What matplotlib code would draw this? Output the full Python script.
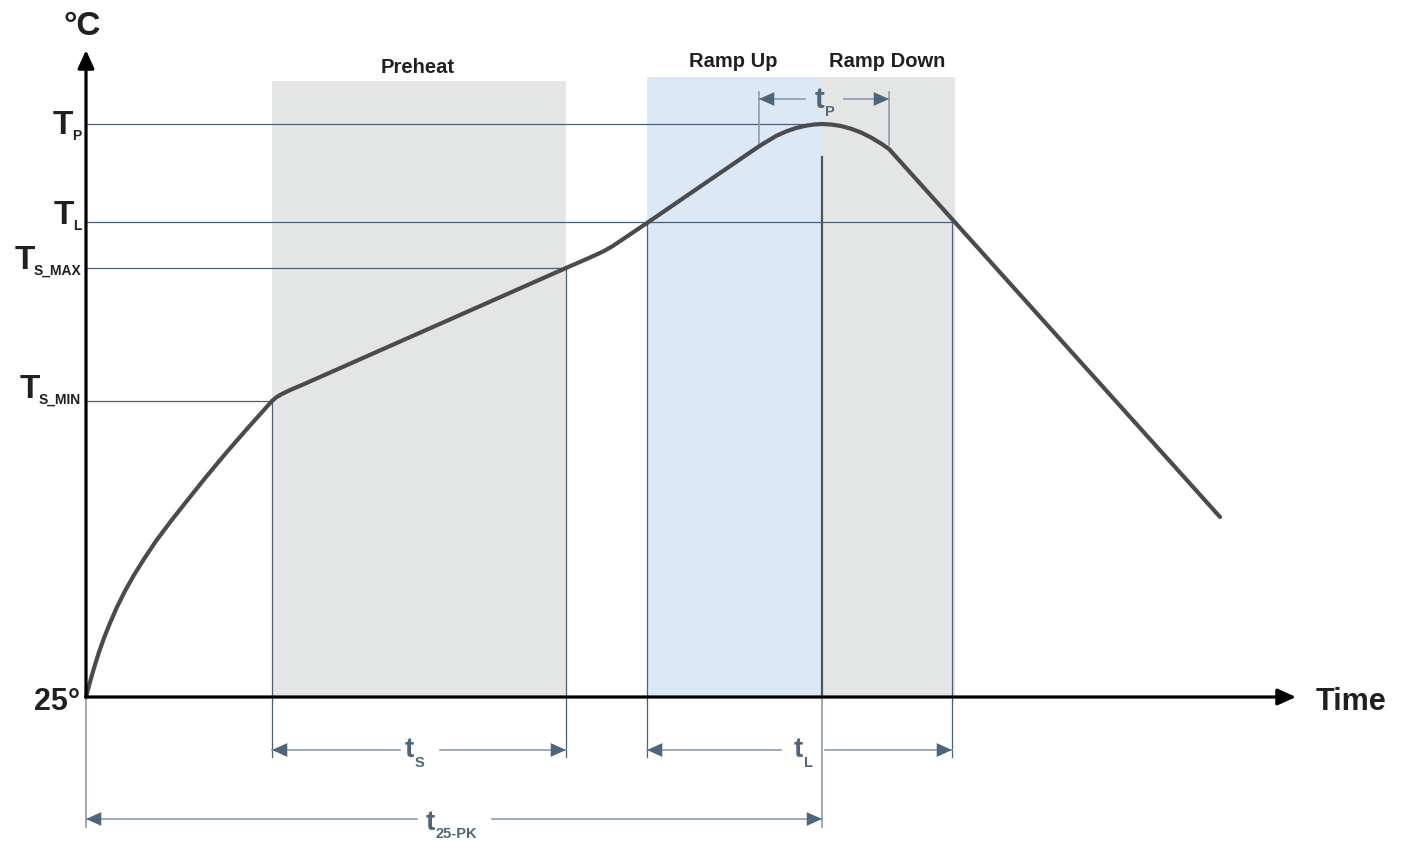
import matplotlib
matplotlib.use("Agg")
import matplotlib.pyplot as plt

plt.rcParams['font.family'] = ['Liberation Sans', 'DejaVu Sans']

# time measured from the 25 degree start, temperature above the 25 degree baseline
curve_t = [0, 4, 8, 13, 18, 24, 31, 39, 48, 58, 70, 85, 100, 120, 140, 160, 186,
           190, 195, 201, 208, 216,
           480, 500, 510, 518, 526, 535, 561,
           672, 680, 690, 700, 710, 720, 728, 736, 745, 755, 765, 775, 785, 795, 803,
           1134]
curve_T = [0, 15, 29, 45, 59, 74, 90, 106, 122, 138, 156, 176, 195, 220, 244, 267, 296,
           299.5, 302.5, 305.5, 308.7, 312,
           429, 437.7, 442.2, 446, 450.5, 456.5, 474,
           550, 555, 561, 565.5, 569, 571.3, 572.5, 573, 572.5, 571, 568.3, 564.5, 559.5, 553.5, 548,
           180]

# temperature levels
T_P, T_L, T_SMAX, T_SMIN = 573, 475, 429, 296
level_names = ["P", "L", "S_MAX", "S_MIN"]
level_values = [T_P, T_L, T_SMAX, T_SMIN]
level_ends = [736, 866, 480, 186]

# time marks
ts_start, ts_end = 186, 480
tl_start, t_peak, tl_end = 561, 736, 866
tp_start, tp_end = 673, 803

# shaded zones: (left, right, top, colour)
zones = [(186, 480, 616, "#e4e6e5"),
         (561, 736, 620, "#dce8f6"),
         (736, 869, 620, "#e4e6e5")]
zone_labels = ["Preheat", "Ramp Up", "Ramp Down"]
zone_label_x = [332, 647, 801]
zone_label_y = [624, 630, 630]

INK = "#231f20"
SLATE = "#4a6078"
SLATE_LIGHT = "#8e9dac"
HEAD = "#4f6579"
CURVE = "#4b4b4d"

fig = plt.figure(figsize=(14.06, 8.41), dpi=100)
ax = fig.add_axes([0, 0, 1, 1])
ax.set_xlim(-86, 1320)
ax.set_ylim(-144, 697)
ax.axis("off")

# zones
for (left, right, top, color) in zones:
    ax.bar(left, top, width=right - left, bottom=0, align="edge",
           color=color, linewidth=0, zorder=1)
for label, x, y in zip(zone_labels, zone_label_x, zone_label_y):
    ax.text(x, y, label, ha="center", va="baseline", fontsize=14.5,
            fontweight="bold", color=INK)

# horizontal level lines
for val, end in zip(level_values, level_ends):
    ax.plot([0, end], [val, val], color=SLATE, lw=0.9, zorder=2)

# vertical guide lines
for x, top in [(ts_start, T_SMIN), (ts_end, T_SMAX), (tl_start, T_L), (tl_end, T_L)]:
    ax.plot([x, x], [top, -60], color=SLATE, lw=0.9, zorder=2)
ax.plot([t_peak, t_peak], [540, 0], color="#555555", lw=1.6, zorder=2)
ax.plot([t_peak, t_peak], [0, -130], color=SLATE_LIGHT, lw=1.2, zorder=2)
ax.plot([0, 0], [0, -130], color=SLATE_LIGHT, lw=1.2, zorder=2)
for x in [tp_start, tp_end]:
    ax.plot([x, x], [605, 552], color=SLATE_LIGHT, lw=1.2, zorder=2)

# profile curve
ax.plot(curve_t, curve_T, color=CURVE, lw=3, solid_capstyle="round",
        solid_joinstyle="round", zorder=4)

# axes arrows
axis_arrow = dict(arrowstyle="-|>,head_length=1.0,head_width=0.45",
                  color="black", lw=2.3, mutation_scale=11, shrinkA=0, shrinkB=0)
ax.annotate("", xy=(0, 647), xytext=(0, 0), arrowprops=axis_arrow, zorder=5)
ax.annotate("", xy=(1210, 0), xytext=(0, 0), arrowprops=axis_arrow, zorder=5)


def dim_arrow(x_from, x_to, y, line_color):
    ax.plot([x_from, x_to], [y, y], color=line_color, lw=1.2, zorder=3)
    step = 1 if x_to > x_from else -1
    ax.annotate("", xy=(x_to, y), xytext=(x_to - step, y),
                arrowprops=dict(arrowstyle="-|>,head_length=1.0,head_width=0.45",
                                color=HEAD, lw=0, mutation_scale=11,
                                shrinkA=0, shrinkB=0), zorder=3)


# dimension arrows with a gap for the label
dim_arrow(314, ts_start, -53, SLATE_LIGHT)
dim_arrow(354, ts_end, -53, SLATE_LIGHT)
dim_arrow(695, tl_start, -53, SLATE_LIGHT)
dim_arrow(739, tl_end, -53, SLATE_LIGHT)
dim_arrow(331, 0, -122, SLATE_LIGHT)
dim_arrow(406, t_peak, -122, SLATE_LIGHT)
dim_arrow(719, tp_start, 598, SLATE_LIGHT)
dim_arrow(758, tp_end, 598, SLATE_LIGHT)


def t_label(x, y, sub, size, sub_size, drop):
    ax.text(x, y, "t", ha="right", va="baseline", fontsize=size,
            fontweight="bold", color=HEAD, zorder=6)
    ax.text(x + 1, y - drop, sub, ha="left", va="baseline", fontsize=sub_size,
            fontweight="bold", color=HEAD, zorder=6)


t_label(328, -60, "S", 20, 10.5, 10)
t_label(717, -60, "L", 20, 10.5, 10)
t_label(349, -133, "25-PK", 20, 10.5, 8)
t_label(738, 589, "P", 21, 10.5, 8)

# temperature labels on the y axis
sub_baselines = [557, 467, 422, 293]
for name, yb in zip(level_names, sub_baselines):
    sub = ax.text(-5, yb, name, ha="right", va="baseline", fontsize=10,
                  fontweight="bold", color=INK)
    ax.annotate("T", xy=(0, 0), xycoords=sub, xytext=(1, 6.5),
                textcoords="offset points", ha="right", va="baseline",
                fontsize=24, fontweight="bold", color=INK)

ax.text(-4, 662, "°C", ha="center", va="baseline", fontsize=24,
        fontweight="bold", color=INK)
ax.text(-6, -13, "25°", ha="right", va="baseline", fontsize=22,
        fontweight="bold", color=INK)
ax.text(1230, -13, "Time", ha="left", va="baseline", fontsize=22,
        fontweight="bold", color=INK)

fig.savefig("out.png", dpi=100)
